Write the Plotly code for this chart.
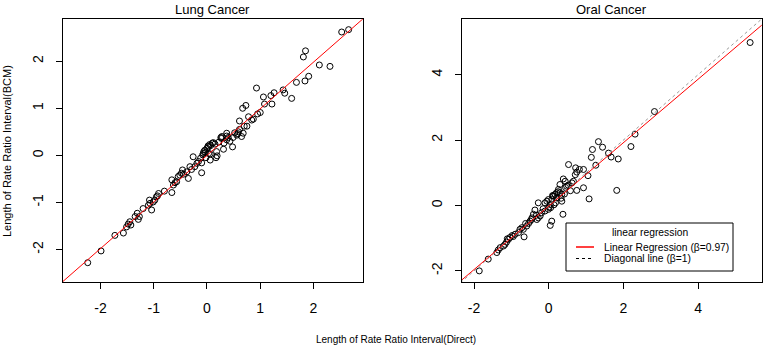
import plotly.graph_objects as go

# ---------------- data ----------------
lung_x = [2.53, 2.66, 1.81, 1.85, 2.11, 2.31, 1.84, 1.91, 1.68, 1.59, 1.43, 1.46, 1.26, 1.20, 1.22,
          1.06, 1.08, 0.93, 1.00, 0.67, 0.73, 0.78, 0.84, 0.87, 0.61, 0.75, 0.61, 0.59, 0.68, 0.65,
          0.56, 0.49, 0.48, 0.37, 0.37, 0.26, 0.28, 0.32, 0.37, 0.43, 0.31, 0.19, 0.17, 0.18, 0.15,
          0.07, 0.03, 0.00, -0.04, -0.06, -0.07, -0.08, 0.03, 0.06, -0.02, 0.06, -0.10, -0.10, -0.26,
          -0.19, -0.23, -0.32, -0.29, -0.38, -0.35, -0.46, -0.48, -0.51, -0.54, -0.57, -0.66, -0.66,
          -0.63, -0.80, -0.91, -0.95, -0.98, -1.01, -1.07, -1.08, -1.04, -1.20, -1.31, -1.27, -1.29,
          -1.35, -1.45, -1.48, -1.51, -1.43, -1.57, -1.73, -1.99, -2.24,
          0.02, 0.05, -0.03, 0.10, 0.12, 0.22, 0.27, 0.52, 0.58, 0.70, -0.12, -0.16, -0.44, -0.60,
          -0.93, -1.10, 0.40, 0.95]
lung_y = [2.62, 2.67, 2.09, 2.22, 1.92, 1.89, 1.58, 1.68, 1.55, 1.21, 1.39, 1.32, 1.33, 1.27, 1.09,
          1.24, 1.09, 1.43, 0.91, 1.00, 1.06, 0.82, 0.75, 0.77, 0.73, 0.62, 0.55, 0.50, 0.47, 0.40,
          0.43, 0.38, 0.18, 0.41, 0.47, 0.38, 0.40, 0.26, 0.33, 0.30, 0.13, -0.01, -0.05, 0.08, 0.24,
          0.21, 0.18, 0.15, 0.11, 0.08, 0.04, 0.01, 0.04, 0.03, -0.05, -0.10, -0.16, -0.37, -0.03,
          -0.17, -0.24, -0.24, -0.30, -0.35, -0.49, -0.31, -0.38, -0.42, -0.45, -0.56, -0.52, -0.79,
          -0.63, -0.76, -0.81, -0.88, -0.95, -0.99, -1.02, -0.95, -1.16, -1.13, -1.23, -1.30, -1.36,
          -1.30, -1.41, -1.46, -1.52, -1.48, -1.65, -1.70, -2.03, -2.28,
          0.20, 0.23, 0.06, 0.26, 0.27, 0.28, 0.36, 0.48, 0.46, 0.62, -0.06, -0.13, -0.40, -0.58,
          -0.86, -1.06, 0.38, 0.88]

oral_x = [5.39, 2.83, 2.31, 2.20, 1.33, 1.44, 1.17, 1.14, 1.60, 1.67, 1.86, 1.26, 1.05, 0.53,
          0.72, 0.82, 0.75, 0.93, 0.93, 0.75, 1.08, 1.82, 0.39, 0.44, 0.38, 0.08, 0.04, 0.71, 0.66,
          0.62, 0.48, 0.30, 0.26, 0.21, 0.35, 0.35, 0.17, 0.13, 0.08, -0.01, -0.05, -0.10, 0.04,
          0.05, -0.01, -0.28, -0.10, -0.19, -0.23, -0.28, -0.32, -0.37, -0.41, -0.46, -0.50, -0.54,
          -0.59, -0.68, -0.66, -0.77, -0.81, -0.90, -0.95, -1.04, -1.08, -1.13, -1.17, -1.21, -1.30,
          -1.35, -1.39, -1.62, -1.86,
          0.30, 0.21, 0.52, 0.45, 0.25, 0.12, 0.18, 0.42, 0.58, -0.15, -0.33, -0.62, -0.72, -0.98,
          -1.11, 0.01, 0.14, 0.33, 0.10, -0.45]
oral_y = [4.98, 2.87, 2.18, 1.80, 1.95, 1.78, 1.71, 1.47, 1.60, 1.48, 1.42, 1.23, 0.91, 1.25,
          1.15, 1.10, 1.02, 1.10, 0.54, 0.46, 0.20, 0.46, 0.81, 0.74, -0.27, -0.48, -0.61, 0.94, 0.74,
          0.69, 0.59, 0.64, 0.49, 0.39, 0.34, 0.13, 0.34, 0.28, 0.18, 0.18, 0.13, 0.08, 0.03,
          -0.07, -0.12, 0.08, -0.17, -0.22, -0.32, -0.38, -0.43, -0.14, -0.27, -0.43, -0.48, -0.55,
          -0.63, -0.73, -0.96, -0.73, -0.83, -0.88, -0.95, -0.98, -1.04, -1.12, -1.19, -1.24, -1.29,
          -1.36, -1.44, -1.64, -2.00,
          0.39, 0.23, 0.62, 0.55, 0.42, 0.30, 0.08, 0.35, 0.45, -0.10, -0.30, -0.55, -0.68, -0.92,
          -1.02, -0.05, 0.02, 0.22, 0.30, -0.38]

lung_fit = {"slope": 0.99, "intercept": 0.0}
oral_fit = {"slope": 0.97, "intercept": -0.02}

lung_xrange = [-2.71, 2.93]
lung_yrange = [-2.69, 2.89]
oral_xrange = [-2.33, 5.70]
oral_yrange = [-2.34, 5.69]

lung_xticks = [-2, -1, 0, 1, 2]
lung_yticks = [-2, -1, 0, 1, 2]
oral_xticks = [-2, 0, 2, 4]
oral_yticks = [-2, 0, 2, 4]

legend_title = "linear regression"
legend_labels = ["Linear Regression (β=0.97)", "Diagonal line (β=1)"]

# ---------------- figure ----------------
W, H = 765, 347
FONT = "Liberation Sans, Arial, sans-serif"

def px(x):
    return x / W

def py(y):
    return 1 - y / H

fig = go.Figure()

marker = dict(symbol="circle-open", size=6, color="black", line=dict(width=1, color="black"))

fig.add_trace(go.Scatter(x=lung_x, y=lung_y, mode="markers", marker=marker,
                         xaxis="x", yaxis="y", showlegend=False))
fig.add_trace(go.Scatter(x=oral_x, y=oral_y, mode="markers", marker=marker,
                         xaxis="x2", yaxis="y2", showlegend=False))

def line_pts(fit, xr):
    xs = [xr[0] - 1, xr[1] + 1]
    return xs, [fit["intercept"] + fit["slope"] * v for v in xs]

lx, ly = line_pts(lung_fit, lung_xrange)
fig.add_trace(go.Scatter(x=lx, y=ly, mode="lines", line=dict(color="red", width=1),
                         xaxis="x", yaxis="y", showlegend=False))

ox, oy = line_pts(oral_fit, oral_xrange)
dx = [oral_xrange[0] - 1, oral_xrange[1] + 1]
fig.add_trace(go.Scatter(x=dx, y=dx, mode="lines", line=dict(color="#999999", width=1, dash="dot"),
                         xaxis="x2", yaxis="y2", name=legend_labels[1], showlegend=False))
fig.add_trace(go.Scatter(x=ox, y=oy, mode="lines", line=dict(color="red", width=1),
                         xaxis="x2", yaxis="y2", name=legend_labels[0], showlegend=False))

ax_common = dict(showgrid=False, zeroline=False, showline=True, linecolor="black", linewidth=1,
                 mirror=True, ticks="outside", ticklen=6, tickcolor="black", automargin=False,
                 tickfont=dict(family=FONT, size=14, color="black"))

def tt(vals):
    return [str(v) for v in vals]

x1 = px(62.7), px(363)
x2 = px(461.7), px(761.7)
yd = py(282), py(19.3)

# hand-drawn legend box (R style)
lg_l, lg_r, lg_t, lg_b = 566, 733, 223, 271
shapes = [
    dict(type="rect", xref="paper", yref="paper", x0=px(lg_l), x1=px(lg_r), y0=py(lg_b), y1=py(lg_t),
         line=dict(color="black", width=1), fillcolor="white", layer="above"),
    dict(type="line", xref="paper", yref="paper", x0=px(576), x1=px(594), y0=py(247), y1=py(247),
         line=dict(color="red", width=1.5), layer="above"),
    dict(type="line", xref="paper", yref="paper", x0=px(576), x1=px(594), y0=py(258.5), y1=py(258.5),
         line=dict(color="black", width=1, dash="dot"), layer="above"),
]

annotations = [
    dict(text="Lung Cancer", x=(x1[0] + x1[1]) / 2, y=py(9), xref="paper", yref="paper",
         xanchor="center", yanchor="middle", showarrow=False,
         font=dict(family=FONT, size=13, color="black")),
    dict(text="Oral Cancer", x=(x2[0] + x2[1]) / 2, y=py(10), xref="paper", yref="paper",
         xanchor="center", yanchor="middle", showarrow=False,
         font=dict(family=FONT, size=13, color="black")),
    dict(text="Length of Rate Ratio Interval(BCM)", x=px(7), y=py(151), xref="paper",
         yref="paper", xanchor="center", yanchor="middle", showarrow=False, textangle=-90,
         font=dict(family=FONT, size=11, color="black")),
    dict(text="Length of Rate Ratio Interval(Direct)", x=px(396), y=py(339), xref="paper",
         yref="paper", xanchor="center", yanchor="middle", showarrow=False,
         font=dict(family=FONT, size=10, color="black")),
    dict(text=legend_title, x=px(650), y=py(232), xref="paper", yref="paper",
         xanchor="center", yanchor="middle", showarrow=False,
         font=dict(family=FONT, size=10.3, color="black")),
    dict(text=legend_labels[0], x=px(602), y=py(247), xref="paper", yref="paper",
         xanchor="left", yanchor="middle", showarrow=False,
         font=dict(family=FONT, size=10.3, color="black")),
    dict(text=legend_labels[1], x=px(602), y=py(258.5), xref="paper", yref="paper",
         xanchor="left", yanchor="middle", showarrow=False,
         font=dict(family=FONT, size=10.3, color="black")),
]

fig.update_layout(
    width=W, height=H,
    margin=dict(l=0, r=0, t=0, b=0, autoexpand=False),
    paper_bgcolor="white", plot_bgcolor="white",
    font=dict(family=FONT, color="black"),
    showlegend=False,
    xaxis=dict(domain=list(x1), range=lung_xrange, tickvals=lung_xticks, ticktext=tt(lung_xticks),
               anchor="y", ticklabelstandoff=7, **ax_common),
    yaxis=dict(domain=list(yd), range=lung_yrange, tickvals=lung_yticks, ticktext=tt(lung_yticks),
               anchor="x", tickangle=-90, ticklabelstandoff=7, **ax_common),
    xaxis2=dict(domain=list(x2), range=oral_xrange, tickvals=oral_xticks, ticktext=tt(oral_xticks),
                anchor="y2", ticklabelstandoff=7, **ax_common),
    yaxis2=dict(domain=list(yd), range=oral_yrange, tickvals=oral_yticks, ticktext=tt(oral_yticks),
                anchor="x2", tickangle=-90, ticklabelstandoff=7, **ax_common),
    shapes=shapes,
    annotations=annotations,
)

fig.write_html("out.html", config={"displayModeBar": False},
               post_script="document.body.style.margin='0px';")
